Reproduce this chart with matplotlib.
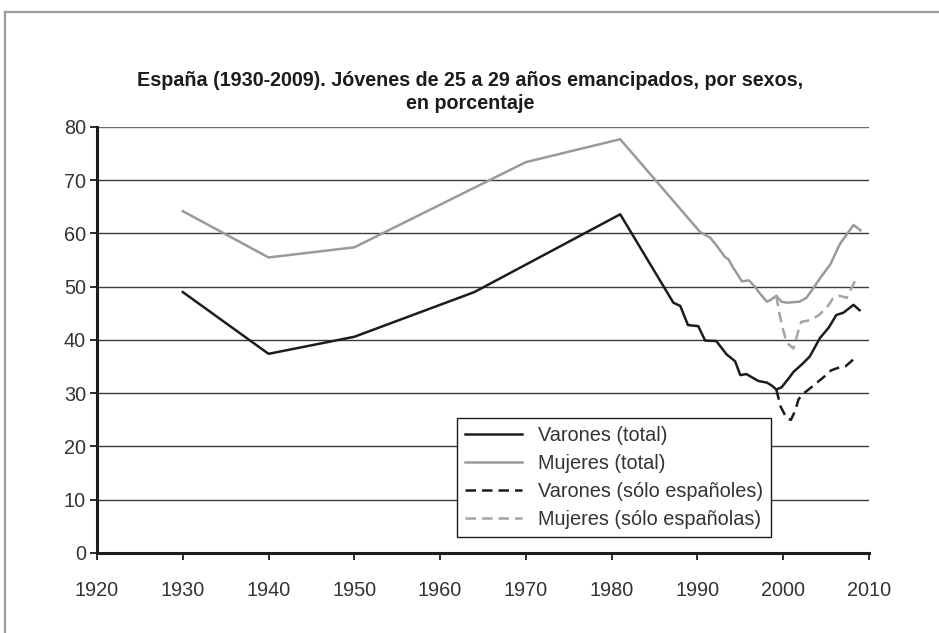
import matplotlib
matplotlib.use("Agg")
import matplotlib.pyplot as plt
from matplotlib.lines import Line2D

plt.rcParams["font.family"] = ["Liberation Sans", "DejaVu Sans"]

# Varones (total)
men_years = [1930, 1940, 1950, 1964, 1981, 1987.2, 1988.0, 1988.9, 1990.1, 1990.9, 1992.2,
             1993.4, 1994.4, 1995.0, 1995.7, 1997.1, 1998.1, 1998.7, 1999.2, 1999.8,
             2000.6, 2001.2, 2002.3, 2003.1, 2004.3, 2005.3, 2006.2, 2007.0, 2008.2, 2008.9]
men_total = [49.0, 37.4, 40.6, 49.0, 63.6, 47.0, 46.4, 42.8, 42.6, 39.9, 39.8,
             37.3, 36.0, 33.4, 33.6, 32.3, 32.0, 31.4, 30.7, 31.1,
             32.7, 34.0, 35.6, 36.9, 40.4, 42.3, 44.7, 45.1, 46.6, 45.6]

# Mujeres (total)
women_years = [1930, 1940, 1950, 1970, 1981, 1990.3, 1991.5, 1992.3, 1993.2, 1993.6, 1994.2,
               1995.2, 1996.0, 1996.7, 1997.3, 1998.1, 1998.5, 1999.2, 1999.8, 2000.4,
               2001.9, 2002.7, 2003.5, 2004.3, 2005.5, 2006.6, 2008.2, 2009.0]
women_total = [64.2, 55.5, 57.4, 73.4, 77.7, 60.3, 59.2, 57.6, 55.6, 55.2, 53.5,
               51.0, 51.2, 50.0, 48.7, 47.2, 47.5, 48.3, 47.2, 47.0,
               47.2, 47.9, 49.7, 51.6, 54.2, 58.0, 61.6, 60.6]

# Varones (sólo españoles)
men_sp_years = [1999.2, 1999.7, 2000.4, 2000.9, 2001.4, 2001.8, 2002.5, 2003.5,
                2004.7, 2005.6, 2006.8, 2007.3, 2008.5]
men_spanish = [30.7, 27.5, 25.3, 25.0, 26.7, 28.9, 30.1, 31.4,
               33.0, 34.3, 35.0, 35.1, 36.8]

# Mujeres (sólo españolas)
women_sp_years = [1999.2, 1999.6, 2000.0, 2000.4, 2001.2, 2001.8, 2002.1, 2003.1,
                  2004.1, 2005.1, 2005.8, 2006.6, 2007.4, 2008.5]
women_spanish = [48.3, 44.6, 41.9, 39.5, 38.4, 41.9, 43.4, 43.7,
                 44.6, 46.1, 47.8, 48.3, 47.9, 51.5]

xticks = list(range(1920, 2011, 10))
yticks = list(range(0, 81, 10))

title = ("España (1930-2009). Jóvenes de 25 a 29 años emancipados, por sexos,\n"
         "en porcentaje")

fig = plt.figure(figsize=(9.39, 6.33), dpi=100)
ax = fig.add_axes([0.1033, 0.1264, 0.8221, 0.6730])

for y in yticks[1:]:
    ax.axhline(y, color="#3a3a3a" if y < 80 else "#6a6a6a", lw=1.0, zorder=1)

dash = (0, (4.2, 2.4))
ax.plot(men_years, men_total, color="#1c1c1c", lw=1.8, label="Varones (total)", zorder=3)
ax.plot(women_years, women_total, color="#9a9a9a", lw=1.8, label="Mujeres (total)", zorder=3)
ax.plot(men_sp_years, men_spanish, color="#1c1c1c", lw=1.8, ls=dash,
        label="Varones (sólo españoles)", zorder=3)
ax.plot(women_sp_years, women_spanish, color="#a4a4a4", lw=1.8, ls=dash,
        label="Mujeres (sólo españolas)", zorder=3)

ax.set_xlim(1920, 2010)
ax.set_ylim(0, 80)
ax.set_xticks(xticks)
ax.set_yticks(yticks)
ax.tick_params(axis="both", direction="out", length=5, width=1.3, color="#1c1c1c",
               labelsize=14.3, labelcolor="#333333")
ax.tick_params(axis="x", pad=15)
ax.tick_params(axis="y", pad=3)

for side in ["top", "right"]:
    ax.spines[side].set_visible(False)
for side in ["left", "bottom"]:
    ax.spines[side].set_linewidth(2.2)
    ax.spines[side].set_color("#1c1c1c")
    ax.spines[side].set_zorder(4)

leg = ax.legend(loc="upper left", bbox_to_anchor=(0.466, 0.317), borderaxespad=0,
                fontsize=14.3, handlelength=2.9, handletextpad=0.8, labelspacing=0.46,
                borderpad=0.4, fancybox=False, framealpha=1, edgecolor="#1c1c1c")
leg.get_frame().set_linewidth(1.0)
for text in leg.get_texts():
    text.set_color("#333333")

fig.text(0.5005, 0.855, title, ha="center", va="center", fontsize=14.2,
         fontweight="bold", color="#1c1c1c", linespacing=1.25)

# grey frame around the figure (top and left edges)
fig.add_artist(Line2D([0.0053, 0.0053], [0.0, 0.981], color="#9a9a9a", lw=1.6))
fig.add_artist(Line2D([0.0053, 1.0], [0.981, 0.981], color="#9a9a9a", lw=1.6))

fig.savefig("out.png", dpi=100, facecolor="white")
